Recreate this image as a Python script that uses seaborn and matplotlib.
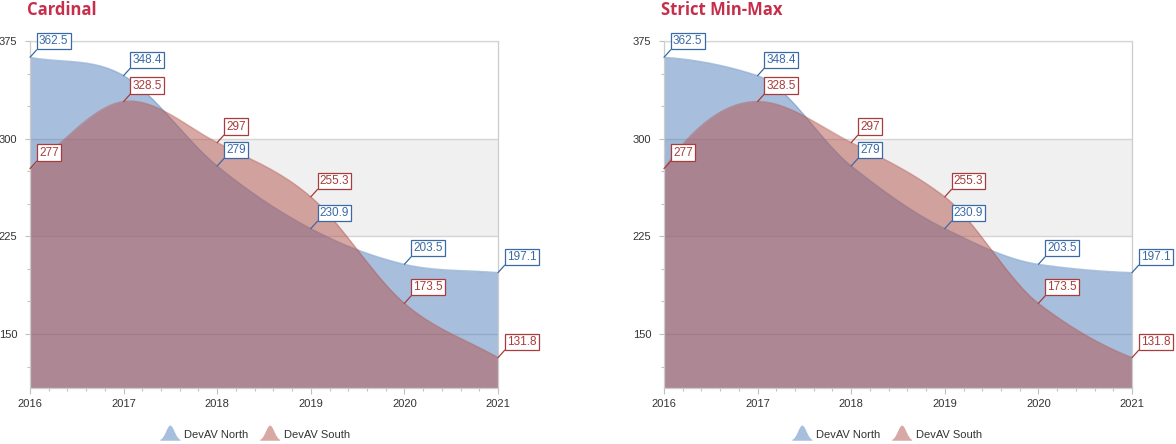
import numpy as np
import pandas as pd
import seaborn as sns
import matplotlib
matplotlib.use("Agg")
import matplotlib.pyplot as plt
from matplotlib.ticker import MultipleLocator, FixedLocator
from matplotlib.legend_handler import HandlerBase
from matplotlib.patches import Polygon, Patch

# ---------------- data ----------------
years = [2016, 2017, 2018, 2019, 2020, 2021]
north = [362.5, 348.4, 279.0, 230.9, 203.5, 197.1]
south = [277.0, 328.5, 297.0, 255.3, 173.5, 131.8]
series_names = ["DevAV North", "DevAV South"]
titles = ["Cardinal", "Strict Min-Max"]
y_ticks = [150, 225, 300, 375]

NORTH_C = "#517fbb"
SOUTH_C = "#b3534d"
NORTH_LBL = "#3a6aa6"
SOUTH_LBL = "#a83b3b"
TITLE_C = "#c62f4b"
FONT = "Liberation Sans"

sns.set_theme(style="white")
plt.rcParams["font.family"] = [FONT, "DejaVu Sans"]


def hermite(xs, ys, ms, n=80):
    X, Y = [], []
    for i in range(len(xs) - 1):
        h = xs[i + 1] - xs[i]
        t = np.linspace(0, 1, n, endpoint=(i == len(xs) - 2))
        h00 = 2 * t**3 - 3 * t**2 + 1
        h10 = t**3 - 2 * t**2 + t
        h01 = -2 * t**3 + 3 * t**2
        h11 = t**3 - t**2
        X.append(xs[i] + t * h)
        Y.append(h00 * ys[i] + h10 * h * ms[i] + h01 * ys[i + 1] + h11 * h * ms[i + 1])
    return np.concatenate(X), np.concatenate(Y)


def cardinal_tangents(xs, ys):
    xs, ys = np.asarray(xs, float), np.asarray(ys, float)
    d = np.diff(ys) / np.diff(xs)
    m = np.zeros_like(ys)
    m[0], m[-1] = d[0], d[-1]
    m[1:-1] = (ys[2:] - ys[:-2]) / (xs[2:] - xs[:-2])
    return m


def monotone_tangents(xs, ys):
    xs, ys = np.asarray(xs, float), np.asarray(ys, float)
    d = np.diff(ys) / np.diff(xs)
    m = np.zeros_like(ys)
    for i in range(1, len(ys) - 1):
        if d[i - 1] * d[i] <= 0:
            m[i] = 0.0
        else:
            m[i] = 2.0 / (1.0 / d[i - 1] + 1.0 / d[i])

    def end(dk, mk):
        v = 2 * dk - mk
        if np.sign(v) != np.sign(dk):
            return 0.0
        if abs(v) > 3 * abs(dk):
            return 3 * dk
        return v

    m[0] = end(d[0], m[1])
    m[-1] = end(d[-1], m[-2])
    return m


class BellHandler(HandlerBase):
    def __init__(self, color):
        super().__init__()
        self.color = color

    def create_artists(self, legend, orig_handle, xdescent, ydescent, width, height, fontsize, trans):
        t = np.linspace(-1, 1, 60)
        xs = -xdescent + (t + 1) / 2 * width
        ys = -ydescent + np.exp(-(t / 0.42) ** 2 / 2) * height * 1.15
        verts = np.column_stack([np.r_[xs, xs[-1], xs[0]], np.r_[ys, -ydescent, -ydescent]])
        p = Polygon(verts, closed=True, facecolor=self.color, edgecolor="none", alpha=0.5, transform=trans)
        return [p]


W, H = 1176, 444
fig = plt.figure(figsize=(W / 100, H / 100), dpi=100)
ax_left_px = [30, 664]
ax_w, ax_top, ax_bot = 468, 41, 388
legend_cx = [255, 887]

for k, (title, lpx) in enumerate(zip(titles, ax_left_px)):
    ax = fig.add_axes([lpx / W, 1 - ax_bot / H, ax_w / W, (ax_bot - ax_top) / H])
    ymin, ymax = 108.5, 375
    ax.set_xlim(years[0], years[-1])
    ax.set_ylim(ymin, ymax)

    ax.axhspan(225, 300, color="#f0f0f0", zorder=0, lw=0)
    for yt in y_ticks:
        ax.axhline(yt, color="#d5d5d5", lw=1, zorder=0.5)

    tang = cardinal_tangents if k == 0 else monotone_tangents
    for vals, col, z in [(north, NORTH_C, 1), (south, SOUTH_C, 2)]:
        cx, cy = hermite(years, vals, tang(years, vals))
        ax.fill_between(cx, ymin, cy, color=col, alpha=0.5, lw=0, zorder=z)
        df = pd.DataFrame({"x": cx, "y": cy})
        sns.lineplot(data=df, x="x", y="y", ax=ax, color=col, alpha=0.45, lw=1.0, zorder=z + 0.1,
                     estimator=None, sort=False)

    for vals, col in [(north, NORTH_LBL), (south, SOUTH_LBL)]:
        for x, y in zip(years, vals):
            ax.annotate(f"{y:g}", xy=(x, y), xytext=(9, 10), textcoords="offset pixels",
                        ha="left", va="bottom", fontsize=8.5, color=col, family=FONT,
                        bbox=dict(boxstyle="square,pad=0.18", fc="white", ec=col, lw=0.9),
                        arrowprops=dict(arrowstyle="-", color=col, lw=0.9, relpos=(0, 0),
                                        shrinkA=0, shrinkB=0),
                        annotation_clip=False, zorder=6)

    ax.set_xlabel("")
    ax.set_ylabel("")
    ax.xaxis.set_major_locator(FixedLocator(years))
    ax.xaxis.set_minor_locator(MultipleLocator(0.2))
    ax.yaxis.set_major_locator(FixedLocator(y_ticks))
    ax.yaxis.set_minor_locator(MultipleLocator(25))
    ax.set_xticklabels([str(y) for y in years])
    ax.set_yticklabels([str(y) for y in y_ticks])
    ax.tick_params(axis="x", which="major", length=4.3, width=0.8, color="#c0c0c0", pad=3.6,
                   labelsize=8, labelcolor="#333333", bottom=True, direction="out")
    ax.tick_params(axis="x", which="minor", length=2.2, width=0.8, color="#c0c0c0", bottom=True,
                   direction="out")
    ax.tick_params(axis="y", which="major", length=3.6, width=0.8, color="#c0c0c0", pad=5.5,
                   labelsize=8, labelcolor="#333333", left=True, direction="out")
    ax.tick_params(axis="y", which="minor", length=2.2, width=0.8, color="#c0c0c0", left=True,
                   direction="out")
    for s in ["left", "right", "bottom", "top"]:
        ax.spines[s].set_visible(True)
        ax.spines[s].set_color("#cccccc")
        ax.spines[s].set_linewidth(0.9)
    ax.spines["top"].set_color("#d5d5d5")

    fig.text((lpx - 3) / W, 1 - 15 / H, title, fontsize=12, weight="bold", color=TITLE_C,
             family="Open Sans", ha="left", va="baseline")

    hN = Patch(label=series_names[0])
    hS = Patch(label=series_names[1])
    leg = ax.legend(handles=[hN, hS], loc="center",
                    bbox_to_anchor=((legend_cx[k] - lpx) / ax_w, -0.133),
                    ncol=2, frameon=False, fontsize=8, handlelength=1.8, handleheight=1.45,
                    handletextpad=0.3, columnspacing=1.1,
                    handler_map={hN: BellHandler(NORTH_C), hS: BellHandler(SOUTH_C)})
    for t in leg.get_texts():
        t.set_color("#333333")

fig.savefig("out.png", dpi=100)
